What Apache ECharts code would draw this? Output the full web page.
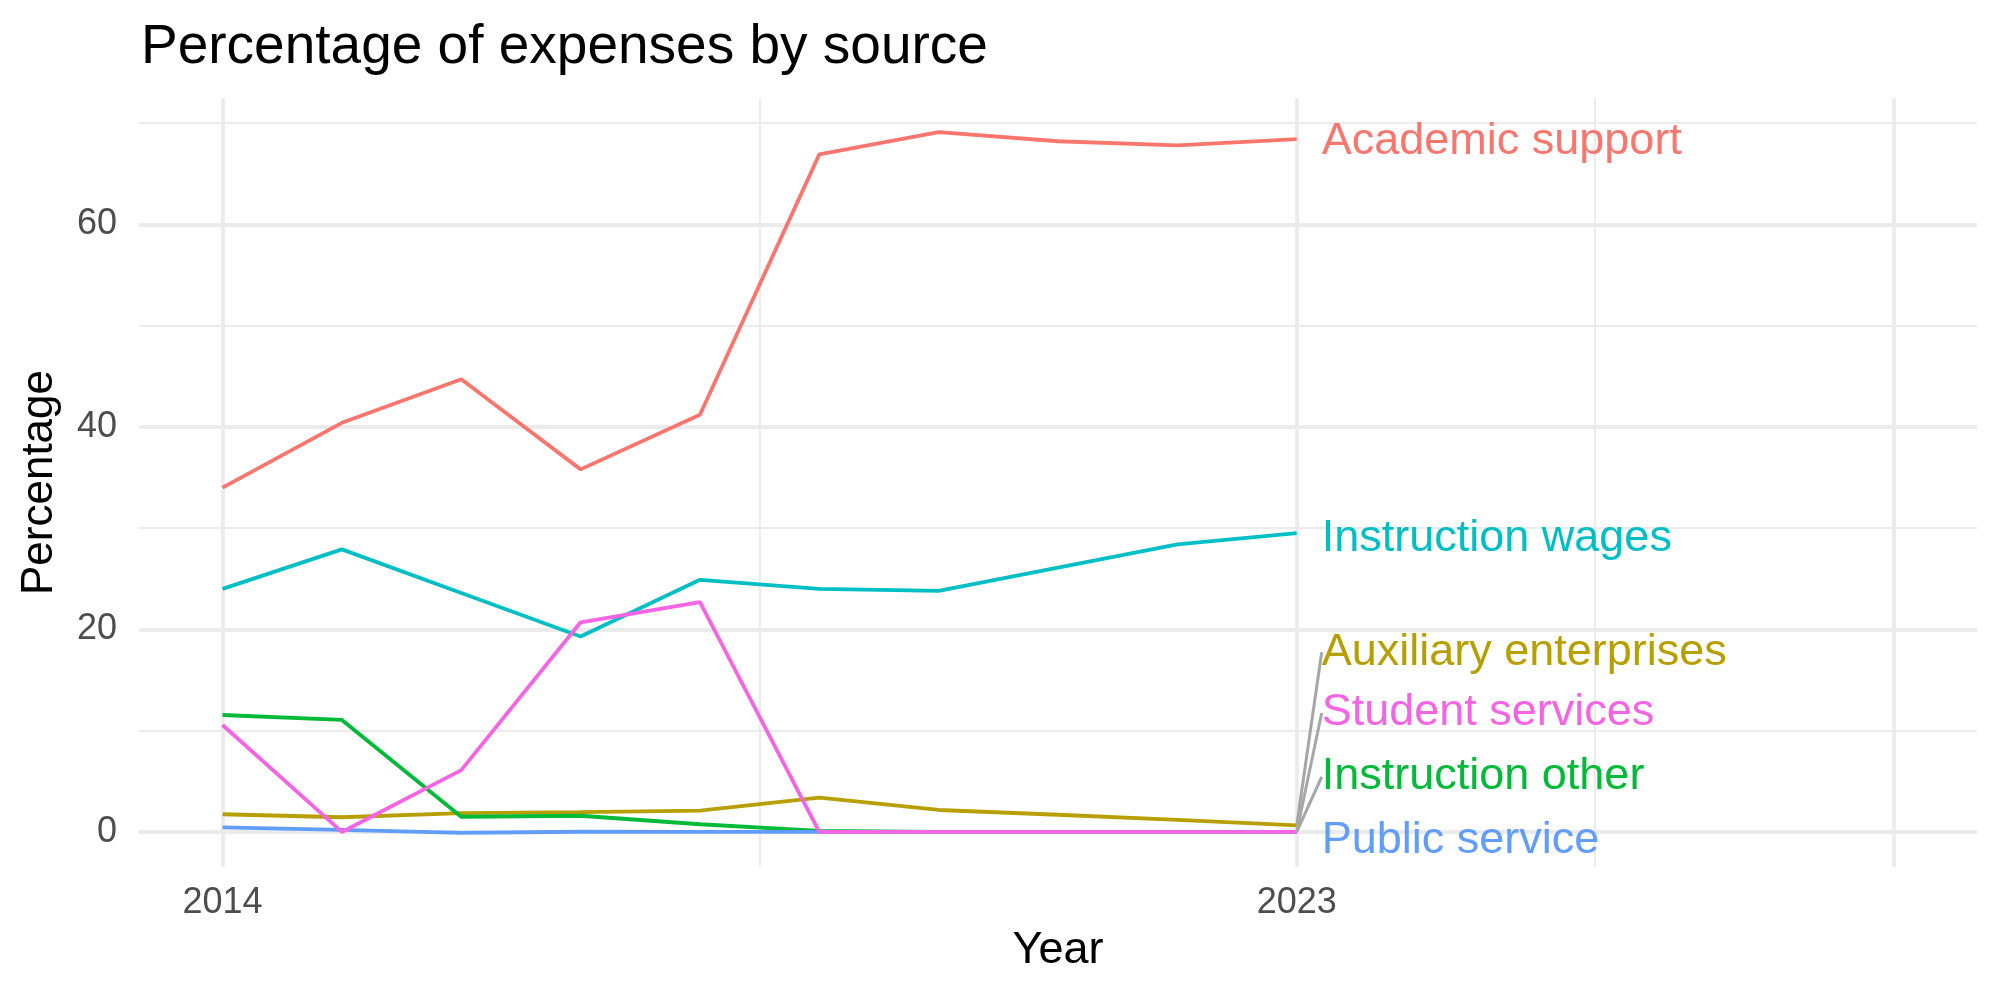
<!DOCTYPE html>
<html>
<head>
<meta charset="utf-8">
<script src="https://cdn.jsdelivr.net/npm/echarts@6/dist/echarts.min.js"></script>
<style>
  html, body { margin: 0; padding: 0; background: #fff; }
  #chart { width: 2000px; height: 1000px; }
</style>
</head>
<body>
<div id="chart"></div>
<script>
const years = [2014, 2015, 2016, 2017, 2018, 2019, 2020, 2021, 2022, 2023];

const academicSupport = [34.0, 40.4, 44.7, 35.8, 41.2, 66.9, 69.1, 68.2, 67.8, 68.4];
const auxiliaryEnterprises = [1.75, 1.45, 1.85, 1.95, 2.1, 3.4, 2.17, 1.7, 1.2, 0.66];
const instructionOther = [11.55, 11.06, 1.5, 1.6, 0.76, 0.1, 0, 0, 0, 0];
const instructionWages = [24.0, 27.9, 23.6, 19.3, 24.9, 24.0, 23.8, 26.1, 28.4, 29.5];
const publicService = [0.46, 0.2, -0.1, 0.02, 0, 0, 0, 0, 0, 0];
const studentServices = [10.56, 0, 6.1, 20.7, 22.7, 0, 0, 0, 0, 0];

const xMajorTicks = [2014, 2023, 2028];
const xMinorTicks = [2018.5, 2025.5];
const xLabels = [2014, 2023];
const yMajorTicks = [0, 20, 40, 60];
const yMinorTicks = [10, 30, 50, 70];

// drawing order follows the factor order, pink ends on top
const sources = [
  { name: "Academic support", values: academicSupport, color: "#F8766D", dy: 2, guide: false },
  { name: "Auxiliary enterprises", values: auxiliaryEnterprises, color: "#B79F00", dy: -173, guide: true },
  { name: "Instruction other", values: instructionOther, color: "#00BA38", dy: -55, guide: true },
  { name: "Instruction wages", values: instructionWages, color: "#00BFC4", dy: 5, guide: false },
  { name: "Public service", values: publicService, color: "#619CFF", dy: 9, guide: false },
  { name: "Student services", values: studentServices, color: "#F564E3", dy: -119, guide: true }
];

const font = "Liberation Sans, Arial, sans-serif";
const gridColor = "#EBEBEB";

const chart = echarts.init(document.getElementById("chart"), null, { renderer: "canvas" });

const lastIndex = years.length - 1;

chart.setOption({
  animation: false,
  backgroundColor: "#ffffff",
  textStyle: { fontFamily: font },
  title: {
    text: "Percentage of expenses by source",
    left: 136,
    top: 15,
    textStyle: { fontFamily: font, fontSize: 55, fontWeight: "normal", color: "#000000" }
  },
  grid: { left: 139, right: 23, top: 98, bottom: 133, containLabel: false, outerBoundsMode: "none" },
  xAxis: [
    {
      type: "value",
      min: 2013.3,
      max: 2028.7,
      name: "Year",
      nameLocation: "middle",
      nameGap: 61,
      nameTextStyle: { fontFamily: font, fontSize: 45, color: "#000000" },
      axisLine: { show: false },
      axisTick: { show: false, customValues: xMajorTicks },
      axisLabel: {
        customValues: xLabels,
        margin: 18,
        fontFamily: font,
        fontSize: 36,
        color: "#4D4D4D",
        formatter: (v) => String(v)
      },
      splitLine: { show: true, lineStyle: { color: gridColor, width: 3.8 } }
    },
    {
      type: "value",
      min: 2013.3,
      max: 2028.7,
      position: "bottom",
      axisLine: { show: false },
      axisTick: { show: false, customValues: xMinorTicks },
      axisLabel: { show: false },
      splitLine: { show: true, lineStyle: { color: gridColor, width: 1.9 } }
    }
  ],
  yAxis: [
    {
      type: "value",
      min: -3.46,
      max: 72.47,
      name: "Percentage",
      nameLocation: "middle",
      nameGap: 77,
      nameTextStyle: { fontFamily: font, fontSize: 44, color: "#000000" },
      axisLine: { show: false },
      axisTick: { show: false, customValues: yMajorTicks },
      axisLabel: {
        customValues: yMajorTicks,
        margin: 22,
        fontFamily: font,
        fontSize: 36,
        color: "#4D4D4D"
      },
      splitLine: { show: true, lineStyle: { color: gridColor, width: 3.8 } }
    },
    {
      type: "value",
      min: -3.46,
      max: 72.47,
      position: "left",
      axisLine: { show: false },
      axisTick: { show: false, customValues: yMinorTicks },
      axisLabel: { show: false },
      splitLine: { show: true, lineStyle: { color: gridColor, width: 1.9 } }
    }
  ],
  series: sources.map((s) => ({
    name: s.name,
    type: "line",
    xAxisIndex: 0,
    yAxisIndex: 0,
    silent: true,
    showSymbol: true,
    symbol: "circle",
    symbolSize: 0,
    z: 3,
    emphasis: { disabled: true },
    lineStyle: { color: s.color, width: 3.8 },
    itemStyle: { color: s.color },
    data: years.map((year, i) =>
      i === lastIndex
        ? { value: [year, s.values[i]], label: { show: true } }
        : [year, s.values[i]]
    ),
    label: {
      show: false,
      position: "right",
      distance: 25,
      formatter: () => s.name,
      fontFamily: font,
      fontSize: 45,
      color: s.color
    },
    labelLayout: { dy: s.dy },
    labelLine: {
      show: s.guide,
      smooth: false,
      length2: 0,
      lineStyle: { color: "#A6A6A6", width: 3 }
    }
  }))
});
</script>
</body>
</html>
